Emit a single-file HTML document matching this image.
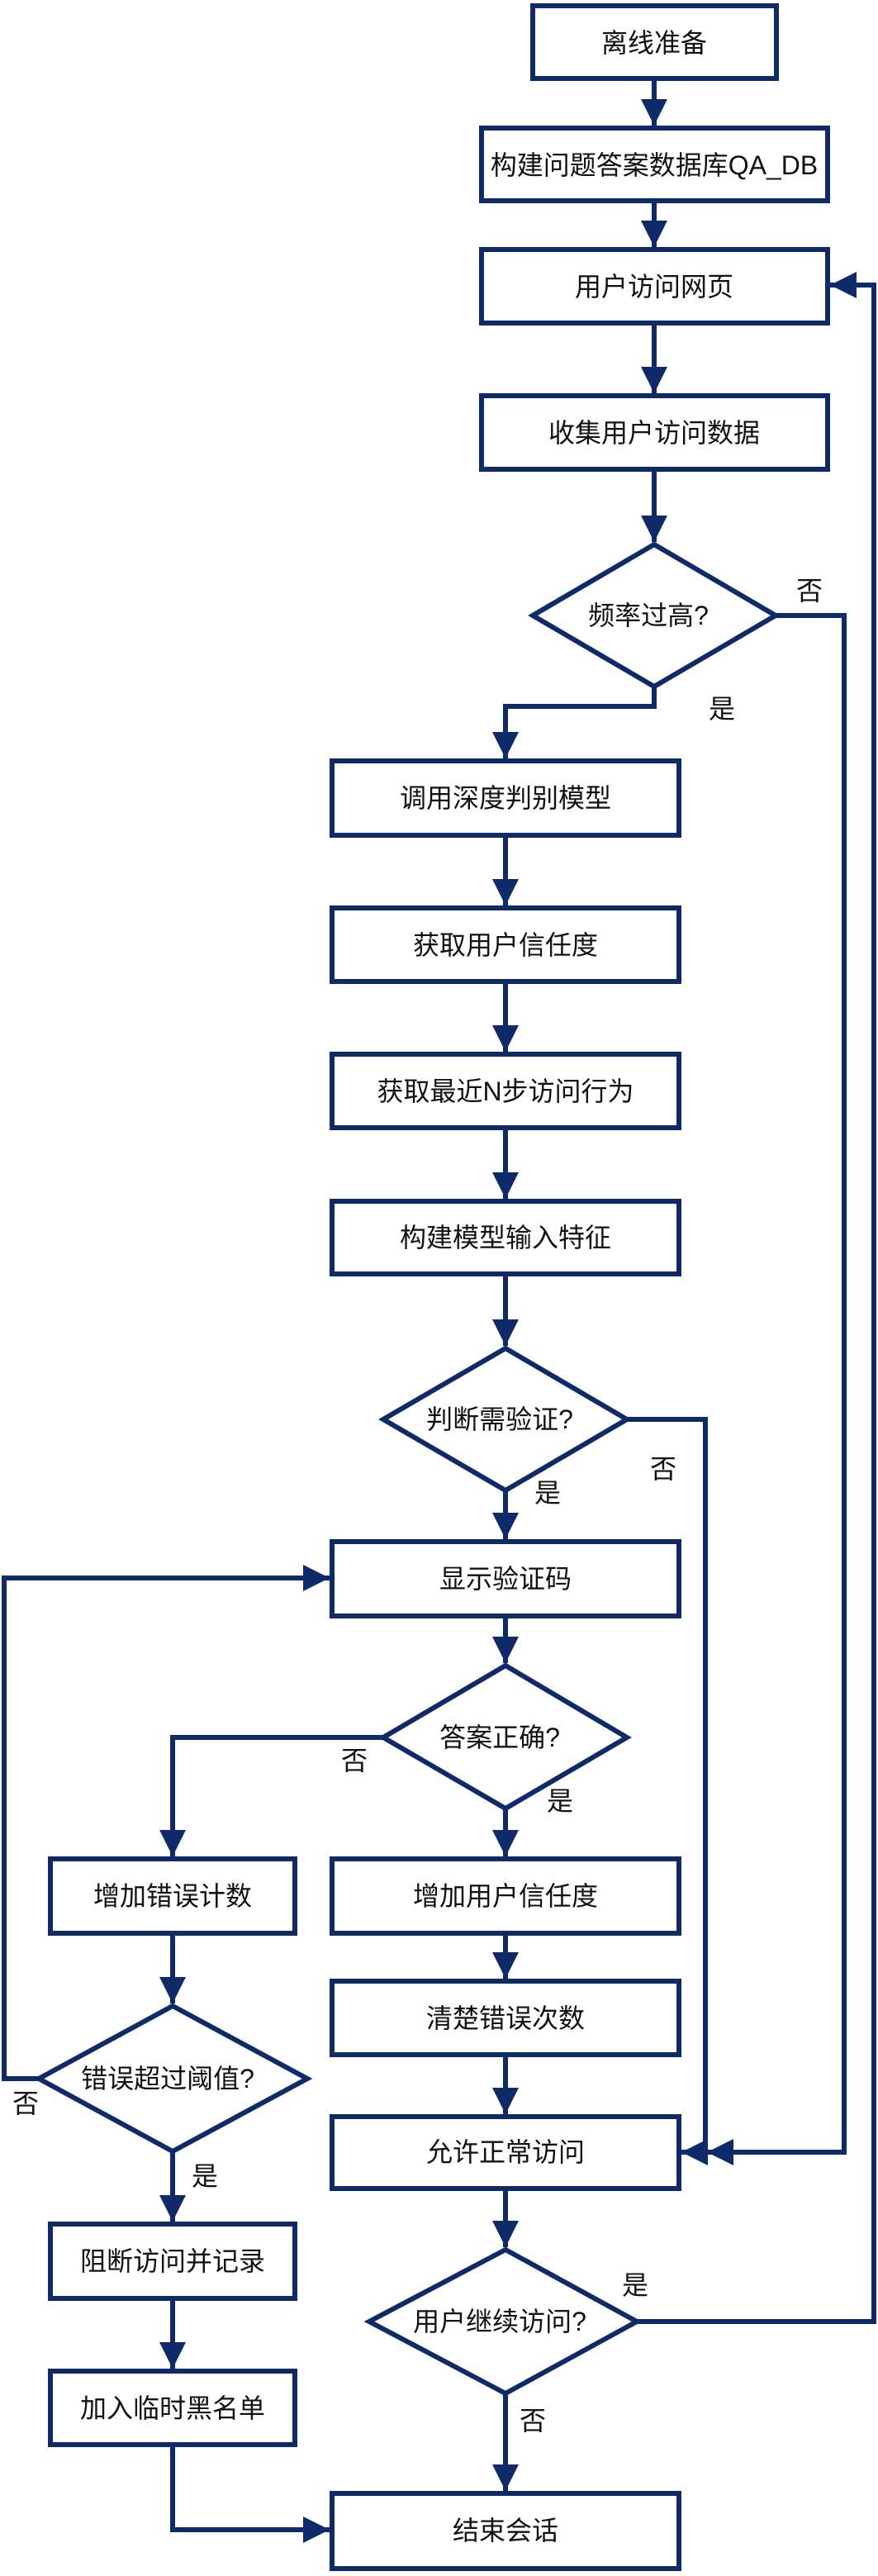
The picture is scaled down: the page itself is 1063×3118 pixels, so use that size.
<!DOCTYPE html>
<html><head><meta charset="utf-8"><style>
html,body{margin:0;padding:0;background:#fff;}
svg{display:block;}
text{font-family:"Liberation Sans","Noto Sans CJK SC",sans-serif;font-size:32px;fill:#111;}
</style></head><body>
<svg width="1063" height="3118" viewBox="0 0 1063 3118" xmlns="http://www.w3.org/2000/svg">
<defs>
<marker id="a" markerUnits="userSpaceOnUse" markerWidth="32" markerHeight="34" refX="32" refY="16" orient="auto">
<path d="M0,0 L32,16 L0,32 Z" fill="#0e2a68"/>
</marker>
</defs>
<g fill="none" stroke="#0e2a68" stroke-width="6">
<!-- boxes -->
<rect x="645" y="7" width="295" height="88"/>
<rect x="583" y="155" width="419" height="88"/>
<rect x="583" y="302" width="419" height="89"/>
<rect x="583" y="479" width="419" height="89"/>
<polygon points="645,745 792,659 939,745 792,831"/>
<rect x="402" y="921" width="420" height="90"/>
<rect x="402" y="1099" width="420" height="89"/>
<rect x="402" y="1276" width="420" height="89"/>
<rect x="402" y="1454" width="420" height="88"/>
<polygon points="464,1718 612,1632 759,1718 612,1804"/>
<rect x="402" y="1866" width="420" height="90"/>
<polygon points="464,2103 612,2016 759,2103 612,2189"/>
<rect x="61" y="2250" width="296" height="90"/>
<rect x="402" y="2250" width="420" height="90"/>
<polygon points="47,2516 209,2428 372,2516 209,2604"/>
<rect x="402" y="2398" width="420" height="89"/>
<rect x="402" y="2562" width="420" height="87"/>
<rect x="61" y="2692" width="296" height="90"/>
<polygon points="447,2810 612,2723 771,2810 612,2897"/>
<rect x="61" y="2870" width="296" height="89"/>
<rect x="402" y="3018" width="420" height="91"/>
</g>
<g fill="none" stroke="#0e2a68" stroke-width="6" marker-end="url(#a)">
<line x1="792" y1="95" x2="792" y2="152"/>
<line x1="792" y1="243" x2="792" y2="299"/>
<line x1="792" y1="391" x2="792" y2="476"/>
<line x1="792" y1="568" x2="792" y2="656"/>
<polyline points="792,831 792,855 612,855 612,918"/>
<line x1="612" y1="1011" x2="612" y2="1096"/>
<line x1="612" y1="1188" x2="612" y2="1273"/>
<line x1="612" y1="1365" x2="612" y2="1451"/>
<line x1="612" y1="1542" x2="612" y2="1629"/>
<line x1="612" y1="1804" x2="612" y2="1863"/>
<line x1="612" y1="1956" x2="612" y2="2013"/>
<polyline points="464,2103 209,2103 209,2247"/>
<line x1="612" y1="2189" x2="612" y2="2247"/>
<line x1="612" y1="2340" x2="612" y2="2395"/>
<line x1="209" y1="2340" x2="209" y2="2425"/>
<line x1="612" y1="2487" x2="612" y2="2559"/>
<polyline points="47,2516 5,2516 5,1910 399,1910"/>
<line x1="209" y1="2604" x2="209" y2="2689"/>
<polyline points="759,1718 854,1718 854,2605 825,2605"/>
<polyline points="939,745 1022,745 1022,2605 856,2605"/>
<line x1="612" y1="2649" x2="612" y2="2720"/>
<polyline points="771,2810 1058,2810 1058,345 1005,345"/>
<line x1="209" y1="2782" x2="209" y2="2867"/>
<line x1="612" y1="2897" x2="612" y2="3015"/>
<polyline points="209,2959 209,3062 399,3062"/>
</g>
<g text-anchor="middle" dominant-baseline="central">
<text x="792" y="52">离线准备</text>
<text x="792" y="200">构建问题答案数据库QA_DB</text>
<text x="792" y="347">用户访问网页</text>
<text x="792" y="524">收集用户访问数据</text>
<text x="785" y="745">频率过高?</text>
<text x="612" y="966">调用深度判别模型</text>
<text x="612" y="1144">获取用户信任度</text>
<text x="612" y="1321">获取最近N步访问行为</text>
<text x="612" y="1498">构建模型输入特征</text>
<text x="605" y="1718">判断需验证?</text>
<text x="612" y="1911">显示验证码</text>
<text x="605" y="2103">答案正确?</text>
<text x="209" y="2295">增加错误计数</text>
<text x="612" y="2295">增加用户信任度</text>
<text x="203" y="2516">错误超过阈值?</text>
<text x="612" y="2443">清楚错误次数</text>
<text x="612" y="2605">允许正常访问</text>
<text x="209" y="2737">阻断访问并记录</text>
<text x="605" y="2810">用户继续访问?</text>
<text x="209" y="2915">加入临时黑名单</text>
<text x="612" y="3063">结束会话</text>
<text x="980" y="715">否</text>
<text x="874" y="858">是</text>
<text x="803" y="1778">否</text>
<text x="663" y="1807">是</text>
<text x="429" y="2131">否</text>
<text x="678" y="2180">是</text>
<text x="31" y="2546">否</text>
<text x="248" y="2634">是</text>
<text x="769" y="2766">是</text>
<text x="645" y="2930">否</text>
</g>
</svg>
</body></html>
